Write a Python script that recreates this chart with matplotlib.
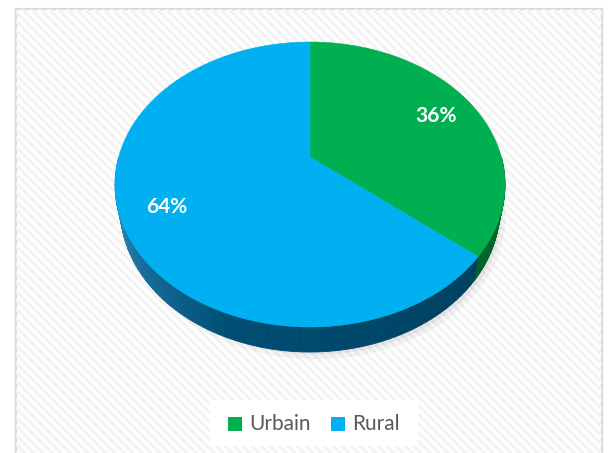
import numpy as np
import matplotlib.pyplot as plt
from matplotlib.colors import to_rgb

# data
labels = ['Urbain', 'Rural']
values = [36, 64]
colors = ['#00b050', '#00b0f0']
side_colors = ['#00652c', '#00405f']

# figure in pixel coordinates
W, H = 612, 453
fig = plt.figure(figsize=(W / 100, H / 100), dpi=100)
ax = fig.add_axes([0, 0, 1, 1])
ax.set_xlim(0, W)
ax.set_ylim(H, 0)
ax.axis('off')

# perspective pie geometry
cx, cy = 310.0, 157.0     # apex of the wedges
k = 0.193                 # perspective factor
B = 137.2                 # vertical radius factor
A = 191.3                 # horizontal radius factor
depth = 25.0
shrink = 0.972            # bottom rim is a bit narrower (further away)


def proj(theta, r=1.0, sx=1.0):
    """theta in degrees, clockwise from 12 o'clock"""
    t = np.radians(theta)
    u, v = r * np.sin(t), r * np.cos(t)
    w = 1 + k * v
    return cx + sx * A * u / w, cy - B * v / w


# chart frame with diagonal stripes
frame = plt.Rectangle((16, 9), 586, 460, facecolor='white', edgecolor='#d9d9d9', lw=1.6, zorder=0)
ax.add_patch(frame)
for s in np.arange(-500, 700, 9):
    ln, = ax.plot([s, s + 600], [0, 600], color='#f3f3f3', lw=2.2, zorder=0.5, solid_capstyle='butt')
    ln.set_clip_path(frame)

# soft shadow under the pie
th = np.linspace(0, 360, 200)
shx, shy = proj(th, sx=shrink)
for i, a in enumerate([0.04, 0.05, 0.06, 0.07]):
    g = 1.0 - i * 0.02
    ax.fill(cx + (shx - cx) * g + 6, (shy - cy) * g + cy + depth + 7 - i, color='#000000', alpha=a, lw=0, zorder=1)

# wedge angles from values
fracs = np.array(values) / np.sum(values)
edges = np.concatenate([[0], np.cumsum(fracs) * 360])

# front side, drawn a bit wider than needed; the top face hides the rest
t_right, t_left = 90.0, 270.0


def side_shade(i, t):
    if i == 0:
        return to_rgb(side_colors[0])
    base = np.array(to_rgb(side_colors[1]))
    light = np.array(to_rgb('#2d8cbc'))
    mid = np.array(to_rgb('#004e74'))
    if t < 200:
        g = np.clip((t - 130) / 70, 0, 1)
        return tuple(base + (mid - base) * g)
    f = np.clip((t - 200) / 60, 0, 1)
    return tuple(mid + (light - mid) * f)


for i in range(len(values)):
    a0, a1 = max(edges[i], t_right), min(edges[i + 1], t_left)
    if a1 <= a0:
        continue
    ts = np.linspace(a0, a1, 90)
    for j in range(len(ts) - 1):
        x0, y0 = proj(ts[j])
        x1, y1 = proj(ts[j + 1])
        bx0, by0 = proj(ts[j], sx=shrink)
        bx1, by1 = proj(ts[j + 1], sx=shrink)
        c = side_shade(i, (ts[j] + ts[j + 1]) / 2)
        ax.fill([x0, x1, bx1, bx0], [y0, y1, by1 + depth, by0 + depth], color=c, ec=c, lw=0.6, zorder=2)

# top face wedges
for i in range(len(values)):
    ts = np.linspace(edges[i], edges[i + 1], 200)
    px, py = proj(ts)
    ax.fill(np.r_[cx, px], np.r_[cy, py], color=colors[i], ec=colors[i], lw=0.4, zorder=3)

# percentage labels
label_r = 0.775
for i in range(len(values)):
    mid = (edges[i] + edges[i + 1]) / 2
    lx, ly = proj(mid, label_r)
    ax.text(lx, ly + 2, f'{values[i]}%', color='white', fontsize=15, fontweight='bold',
            family='Lato', ha='center', va='center', zorder=4)

# legend
ax.add_patch(plt.Rectangle((210, 400), 208, 46, facecolor='white', edgecolor='none', zorder=4))
leg_x = [228, 331]
for i in range(len(labels)):
    ax.add_patch(plt.Rectangle((leg_x[i], 417), 14, 14, facecolor=colors[i], edgecolor='none', zorder=5))
    ax.text(leg_x[i] + 21, 424, labels[i], color='#595959', fontsize=15, family='Lato',
            ha='left', va='center', zorder=5)

fig.savefig('out.png', dpi=100)
